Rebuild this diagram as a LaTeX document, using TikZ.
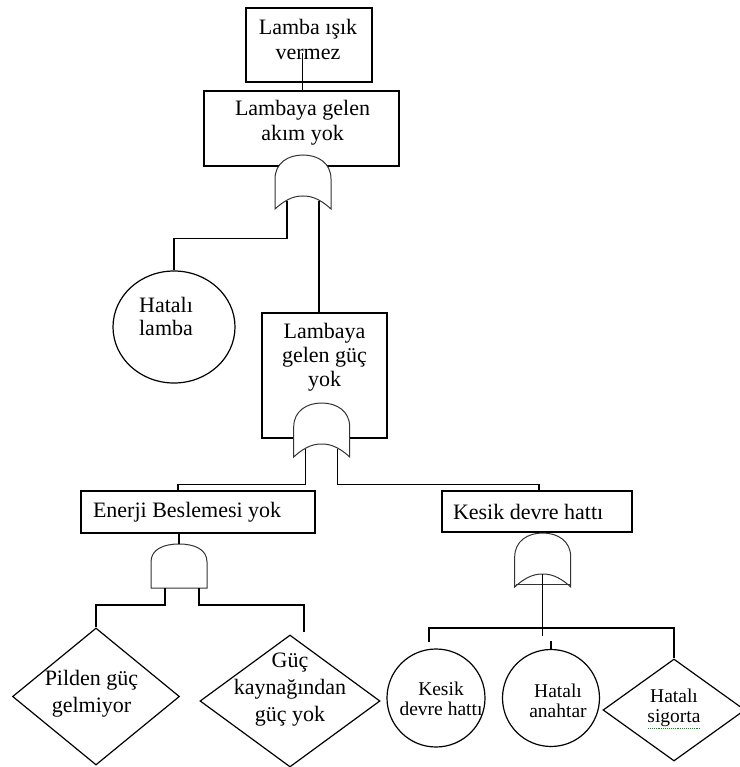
\documentclass[tikz,border=0pt]{standalone}
\usepackage{fontspec}
\setmainfont{Liberation Serif}
\usetikzlibrary{positioning,shapes.geometric}

\begin{document}
\begin{tikzpicture}[x=1pt, y=-1pt, line width=1.2pt,
    box/.style={draw, rectangle, inner sep=0pt},
    basic/.style={draw, circle, inner sep=0pt},
    undev/.style={draw, diamond, inner sep=0pt},
    txt/.style={align=center, inner sep=0pt, font=\fontsize{22}{25}\selectfont},
    smalltxt/.style={align=center, inner sep=0pt, font=\fontsize{19.5}{20}\selectfont},
    gate/.style={draw=black!80, fill=white, line width=1pt},
    orgate/.pic={
        \draw[gate] (-28,54) -- (-28,24) .. controls (-28,8) and (-15,0) .. (0,0)
            .. controls (15,0) and (28,8) .. (28,24) -- (28,54)
            .. controls (15,42) and (6,41) .. (0,41)
            .. controls (-6,41) and (-15,42) .. (-28,54) -- cycle;
        \coordinate (-top) at (0,0);
        \coordinate (-in) at (0,41);
        \coordinate (-l) at (-16,46);
        \coordinate (-r) at (16,46);
        \coordinate (-bl) at (-27,51);
        \coordinate (-br) at (27,51);
    },
    andgate/.pic={
        \draw[gate] (-28,44) -- (-28,18) .. controls (-28,5) and (-15,0) .. (0,0)
            .. controls (15,0) and (28,5) .. (28,18) -- (28,44) -- cycle;
        \coordinate (-top) at (0,0);
        \coordinate (-l) at (-14,44);
        \coordinate (-r) at (20,44);
    }]
\useasboundingbox (0,0) rectangle (739,767);

% top events
\node (isik) [box, minimum width=126pt, minimum height=74pt] at (309,45) {};
\node (isiktxt) [txt, below=11pt of isik.north, xshift=-1pt] {Lamba ışık\\vermez};
\node (akim) [box, minimum width=195pt, minimum height=75pt] at (301.5,128.5) {};
\node (akimtxt) [txt, below=9pt of akim.north, xshift=1pt] {Lambaya gelen\\akım yok};

% second level
\node (lamba) [draw, ellipse, inner sep=0pt, minimum width=122pt, minimum height=112pt] at (174,327) {};
\node (lambatxt) [txt, font=\fontsize{22}{23}\selectfont, below=26pt of lamba.north, xshift=-8pt] {Hatalı\\lamba};
\node (guc) [box, minimum width=125pt, minimum height=125pt] at (324.5,375.5) {};
\node (guctxt) [txt, font=\fontsize{22}{24}\selectfont, below=10pt of guc.north] {Lambaya\\gelen güç\\yok};

% third level
\node (enerji) [box, minimum width=234pt, minimum height=42pt] at (198,512) {};
\node (enerjitxt) [txt, right=12pt of enerji.west] {Enerji Beslemesi yok};
\node (kesik) [box, minimum width=190pt, minimum height=41pt] at (537,511.5) {};
\node (kesiktxt) [txt, right=11pt of kesik.west] {Kesik devre hattı};

% basic events
\node (pil) [undev, minimum width=167pt, minimum height=137pt] at (96,696.5) {};
\node (piltxt) [txt, font=\fontsize{22}{27}\selectfont, below=42pt of pil.north, xshift=-4.5pt] {Pilden güç\\gelmiyor};
\node (kaynak) [undev, minimum width=180pt, minimum height=132pt] at (290,701) {};
\node (kaynaktxt) [txt, font=\fontsize{22}{27}\selectfont, below=18pt of kaynak.north] {Güç\\kaynağından\\güç yok};
\node (devre) [basic, minimum size=98pt] at (436,698) {};
\node (devretxt) [smalltxt, below=33pt of devre.north, xshift=5pt] {Kesik\\devre hattı};
\node (anahtar) [basic, minimum size=97pt] at (551,698) {};
\node (anahtartxt) [smalltxt, below=34pt of anahtar.north, xshift=7pt] {Hatalı\\anahtar};
\node (sigorta) [undev, minimum width=142pt, minimum height=102pt] at (674,710) {};
\node (sigortatxt) [smalltxt, below=30pt of sigorta.north] {Hatalı\\sigorta};
\draw[green!60!black, densely dotted, line width=0.9pt] ([xshift=-26pt,yshift=-1pt]sigortatxt.south) -- ([xshift=26pt,yshift=-1pt]sigortatxt.south);

% gates
\pic (or1) at (303,155) {orgate};
\pic (or2) at (321.7,403) {orgate};
\pic (and1) at (179,544) {andgate};
\pic (or3) at (542.7,533) {orgate};
\draw[gate] (or3-bl) -- (or3-br);

% connectors
\coordinate (lampin) at (302.7,53);
\draw (lampin) -- (lampin |- akim.north);
\draw (or1-l) |- ([yshift=32pt]lamba.north) -- (lamba.north);
\draw (or1-r) -- (or1-r |- guc.north);
\draw (or2-l) |- ([xshift=-20pt,yshift=6pt]enerji.north) -- ([xshift=-20pt]enerji.north);
\draw (or2-r) |- ([xshift=2pt,yshift=6pt]kesik.north) -- ([xshift=2pt]kesik.north);
\draw (and1-top) -- (and1-top |- enerji.south);
\draw (and1-l) -- ++(0,17) -| (pil.north);
\draw (and1-r) -- ++(0,17) -| ([xshift=14pt,yshift=2pt]kaynak.north);
\coordinate (bar) at (542.7,628);
\draw (or3-in) -- ([yshift=-8pt]bar);
\draw (anahtar.north) -- ++(0,-8);
\draw ([xshift=-7pt,yshift=6pt]devre.north) |- (bar) -| (sigorta.north);
\end{tikzpicture}
\end{document}
